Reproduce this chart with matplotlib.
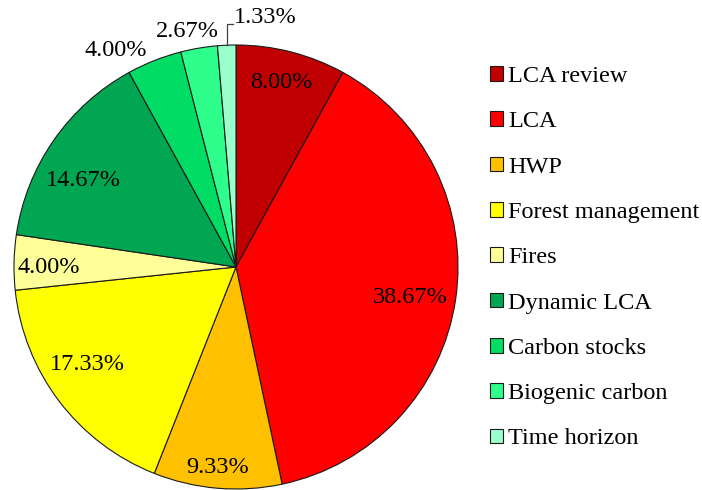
import numpy as np
import matplotlib.pyplot as plt

# data
categories = ['LCA review', 'LCA', 'HWP', 'Forest management', 'Fires',
              'Dynamic LCA', 'Carbon stocks', 'Biogenic carbon', 'Time horizon']
shares = [8.00, 38.67, 9.33, 17.33, 4.00, 14.67, 4.00, 2.67, 1.33]
colors = ['#C00000', '#FF0000', '#FFC000', '#FFFF00', '#FFFF99',
          '#00A651', '#00DC64', '#2EFF8C', '#99FFCC']

# label placement: radius (pie = 1) and small angle nudge (deg)
label_r = [0.857, 0.795, 0.905, 0.80, 0.842, 0.793, None, None, None]
label_nudge = [0.7, -1.4, -0.3, -3.9, 1.2, 5.2, 0, 0, 0]
# outside labels (data coords)
outside_pos = {6: (-0.54, 0.977), 7: (-0.22, 1.059), 8: (0.131, 1.126)}

plt.rcParams['font.family'] = ['Liberation Serif', 'DejaVu Serif']
FS = 17.5

fig = plt.figure(figsize=(7.02, 4.90), dpi=100)
ax = fig.add_axes([0, 0, 1, 1])

# 1 data unit = 222 px, pie centre at (236, 267) px
cx, cy, R = 236, 267, 222

wedges, _ = ax.pie(shares, colors=colors, startangle=90, counterclock=False,
                   radius=1.0, center=(0, 0), frame=True,
                   wedgeprops=dict(edgecolor='#1a1a1a', linewidth=0.8))
ax.set_xlim(-cx / R, (702 - cx) / R)
ax.set_ylim(-(490 - cy) / R, cy / R)
ax.axis('off')

for i, w in enumerate(wedges):
    mid = np.deg2rad((w.theta1 + w.theta2) / 2 + label_nudge[i])
    txt = f'{shares[i]:.2f}%'
    if i in outside_pos:
        x, y = outside_pos[i]
    else:
        x, y = label_r[i] * np.cos(mid), label_r[i] * np.sin(mid)
    ax.text(x, y, txt, ha='center', va='center', fontsize=FS)

# leader line for the smallest slice
w = wedges[8]
m = np.deg2rad((w.theta1 + w.theta2) / 2)
ex, ey = np.cos(m), np.sin(m)
ly = (cy - 24) / R
ax.plot([ex, ex, (233 - cx) / R], [ey, ly, ly], color='#404040', lw=0.9)

leg = fig.legend(wedges, categories, loc='upper left',
                 bbox_to_anchor=(490 / 702, 1 - 66 / 490),
                 frameon=False, fontsize=FS, handlelength=0.55,
                 handleheight=0.55, handletextpad=0.2, labelspacing=1.0,
                 borderpad=0, borderaxespad=0)

fig.savefig('out.png', dpi=100)
